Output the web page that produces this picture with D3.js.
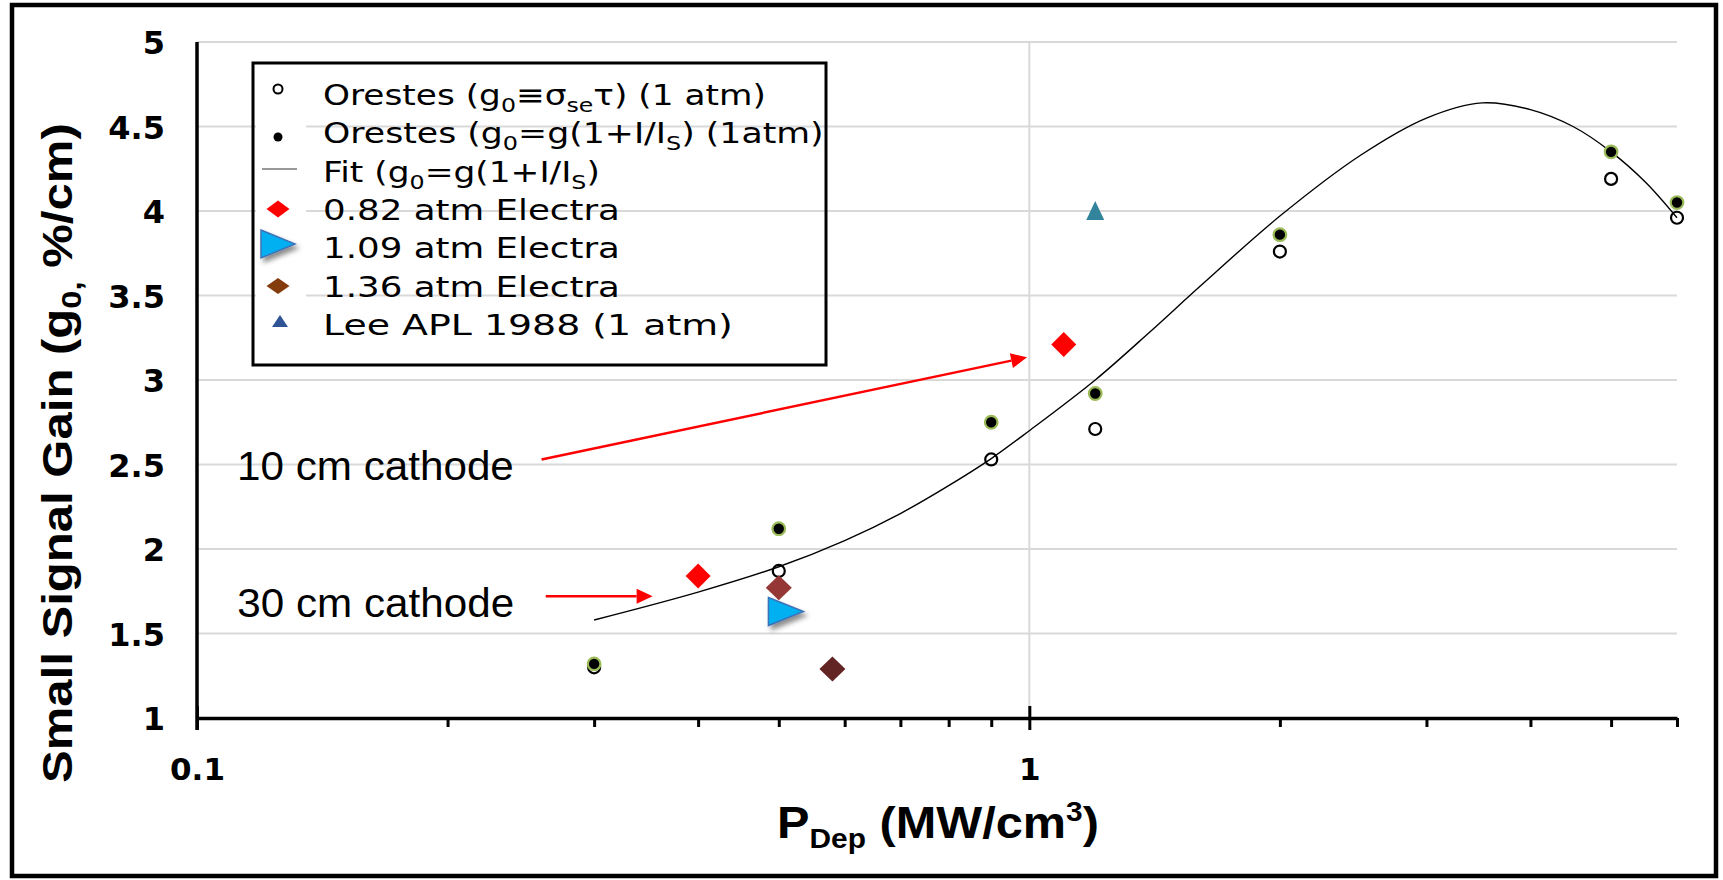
<!DOCTYPE html>
<html>
<head>
<meta charset="utf-8">
<script src="https://cdn.jsdelivr.net/npm/d3@7"></script>
<style>
  html, body { margin: 0; padding: 0; background: #fff; }
  svg { display: block; }
</style>
</head>
<body>
<svg id="chart" width="1723" height="880"></svg>
<script>
// ---- data ------------------------------------------------------------
// Deposited power density (MW/cm^3) of the Orestes runs
const orestesP = [0.3, 0.5, 0.9, 1.2, 2, 5, 6];
// Small signal gain, g0 = sigma_se * tau (1 atm)
const orestesGainTau = [1.30, 1.87, 2.53, 2.71, 3.76, 4.19, 3.96];
// Small signal gain, g0 = g(1 + I/Is) (1 atm)
const orestesGainSat = [1.32, 2.12, 2.75, 2.92, 3.86, 4.35, 4.05];
// Fit curve through the saturated-gain values
const fitP    = [0.3, 0.4, 0.5, 0.6, 0.7, 0.8, 0.9, 1.0, 1.2, 1.4, 1.6, 2.0, 2.5, 3.0, 3.5, 4.0, 4.5, 5.0, 5.5, 6.0];
const fitGain = [1.58, 1.745, 1.895, 2.05, 2.21, 2.375, 2.535, 2.70, 3.00, 3.29, 3.55, 3.97, 4.33, 4.55, 4.64, 4.60, 4.50, 4.35, 4.17, 3.96];
// Electra shots
const electra082P = [0.4, 1.1];
const electra082Gain = [1.84, 3.21];
const electra109P = [0.51];
const electra109Gain = [1.63];
const electra136P = [0.5, 0.58];
const electra136Gain = [1.77, 1.29];
// Lee, APL 1988 (1 atm)
const leeP = [1.2];
const leeGain = [4.0];
// Axis ticks
const gainTicks = [1, 1.5, 2, 2.5, 3, 3.5, 4, 4.5, 5];
const gainTickLabels = ["1", "1.5", "2", "2.5", "3", "3.5", "4", "4.5", "5"];
const pMajorTicks = [0.1, 1];
const pMajorLabels = ["0.1", "1"];
const pMinorTicks = [0.2, 0.3, 0.4, 0.5, 0.6, 0.7, 0.8, 0.9, 2, 3, 4, 5, 6];
// Annotation arrows: [label, start P, start gain, end P, end gain, text P, text gain]
const cathodeNotes = [
  ["10 cm cathode", 0.2594, 2.53, 0.9937, 3.134, 0.1117, 2.41],
  ["30 cm cathode", 0.2624, 1.72, 0.3527, 1.72, 0.1118, 1.60]
];

// ---- styles ------------------------------------------------------------
const gridColor = "#d9d9d9";
const satStroke = "#9bbb59";
const red = "#ff0000";
const brownFills = ["#953735", "#632523"];
const legendBrown = "#843c0c";
const blueFill = "#00b0f0";
const blueStroke = "#3d72b8";
const leeColor = "#31849b";
const leeLegendColor = "#2f5597";

const svg = d3.select("#chart");

const defs = svg.append("defs");
const shadow = defs.append("filter").attr("id", "shadow")
  .attr("x", "-60%").attr("y", "-60%").attr("width", "220%").attr("height", "220%");
shadow.append("feDropShadow").attr("dx", 3).attr("dy", 4).attr("stdDeviation", 2.5)
  .attr("flood-color", "#000").attr("flood-opacity", 0.45);

const x = d3.scaleLog().domain([0.1, 6]).range([197, 1677]);
const y = d3.scaleLinear().domain([1, 5]).range([718, 42]);

// horizontally stretch a text node to a given width about its left edge
function stretchTo(sel, target) {
  const bb = sel.node().getBBox();
  const k = target / bb.width;
  sel.attr("transform", `translate(${bb.x},0) scale(${k},1) translate(${-bb.x},0)`);
  return k;
}
// add text with sub/superscript parts
function rich(textSel, parts, small, subDy, supDy) {
  let off = 0;
  parts.forEach(p => {
    const s = typeof p === "string" ? { t: p } : p;
    const shift = s.sub ? subDy : (s.sup ? supDy : 0);
    const ts = textSel.append("tspan").attr("dy", shift - off).text(s.t);
    if (s.sub || s.sup) ts.attr("font-size", small);
    off = shift;
  });
}

// outer frame
svg.append("rect").attr("x", 12).attr("y", 5).attr("width", 1704).attr("height", 871)
  .attr("fill", "#fff").attr("stroke", "#000").attr("stroke-width", 4.5);

// ---- grid ------------------------------------------------------------
const grid = svg.append("g");
grid.selectAll("line.h").data(gainTicks.filter(v => v > 1)).join("line")
  .attr("x1", x(0.1)).attr("x2", x(6))
  .attr("y1", d => y(d)).attr("y2", d => y(d))
  .attr("stroke", gridColor).attr("stroke-width", 2);
grid.append("line")
  .attr("x1", x(1)).attr("x2", x(1)).attr("y1", y(5)).attr("y2", y(1))
  .attr("stroke", gridColor).attr("stroke-width", 2);

// ---- axes ------------------------------------------------------------
const yAxis = svg.append("g").attr("transform", `translate(${x(0.1)},0)`)
  .call(d3.axisLeft(y).tickValues(gainTicks).tickSize(0).tickPadding(32)
    .tickFormat((d, i) => gainTickLabels[i]));
yAxis.select(".domain").attr("stroke", "#000").attr("stroke-width", 3.5)
  .attr("d", `M0,${y(5)}V${y(1) + 12}`);
yAxis.selectAll("text")
  .attr("font-family", "DejaVu Sans").attr("font-weight", "bold").attr("font-size", 32)
  .attr("fill", "#000").attr("dy", "0.36em");

const xAxisMinor = svg.append("g").attr("transform", `translate(0,${y(1)})`)
  .call(d3.axisBottom(x).tickValues(pMinorTicks).tickSize(9).tickSizeOuter(0).tickFormat(""));
xAxisMinor.select(".domain").attr("stroke", "#000").attr("stroke-width", 3.5);
xAxisMinor.selectAll(".tick line").attr("stroke", "#000").attr("stroke-width", 3);

const xAxisMajor = svg.append("g").attr("transform", `translate(0,${y(1)})`)
  .call(d3.axisBottom(x).tickValues(pMajorTicks).tickSize(12).tickSizeOuter(0).tickPadding(28)
    .tickFormat((d, i) => pMajorLabels[i]));
xAxisMajor.select(".domain").remove();
xAxisMajor.selectAll(".tick line").attr("stroke", "#000").attr("stroke-width", 3).attr("y1", -12);
xAxisMajor.selectAll("text")
  .attr("font-family", "DejaVu Sans").attr("font-weight", "bold").attr("font-size", 31)
  .attr("fill", "#000").attr("dy", "0.71em");

// axis titles
const xTitle = svg.append("text").attr("x", 777).attr("y", 838)
  .attr("font-family", "Liberation Sans").attr("font-weight", "bold").attr("font-size", 44)
  .attr("fill", "#000");
rich(xTitle, ["P", { t: "Dep", sub: true }, " (MW/cm", { t: "3", sup: true }, ")"], 27, 10, -17);
stretchTo(xTitle, 322);

const yTitleG = svg.append("g").attr("transform", "translate(72,783) rotate(-90)");
const yTitle = yTitleG.append("text").attr("x", 0).attr("y", 0)
  .attr("font-family", "Liberation Sans").attr("font-weight", "bold").attr("font-size", 42)
  .attr("fill", "#000");
rich(yTitle, ["Small  Signal Gain (g", { t: "0,", sub: true }, " %/cm)"], 28, 9, 0);
stretchTo(yTitle, 660);

// ---- annotations ------------------------------------------------------
const notes = svg.append("g");
cathodeNotes.forEach(n => {
  const [label, p0, g0, p1, g1, tp, tg] = n;
  const t = notes.append("text").attr("x", x(tp)).attr("y", y(tg))
    .attr("font-family", "Liberation Sans").attr("font-size", 40).attr("fill", "#000").text(label);
  stretchTo(t, 277);
  const xa = x(p0), ya = y(g0), xb = x(p1), yb = y(g1);
  const ang = Math.atan2(yb - ya, xb - xa);
  const L = 16, hw = 7.5;
  const bx = xb - L * Math.cos(ang), by = yb - L * Math.sin(ang);
  notes.append("line").attr("x1", xa).attr("y1", ya).attr("x2", bx).attr("y2", by)
    .attr("stroke", red).attr("stroke-width", 2.5);
  notes.append("path")
    .attr("d", `M${xb},${yb}L${bx - hw * Math.sin(ang)},${by + hw * Math.cos(ang)}L${bx + hw * Math.sin(ang)},${by - hw * Math.cos(ang)}Z`)
    .attr("fill", red);
});

// ---- marks ------------------------------------------------------------
const marks = svg.append("g");
const diamond = (cx, cy, hw, hh) => `M${cx},${cy - hh}L${cx + hw},${cy}L${cx},${cy + hh}L${cx - hw},${cy}Z`;

// open circles
marks.selectAll("circle.tau").data(orestesP).join("circle")
  .attr("cx", d => x(d)).attr("cy", (d, i) => y(orestesGainTau[i])).attr("r", 6)
  .attr("fill", "none").attr("stroke", "#000").attr("stroke-width", 2.2);

// fit curve
const fitLine = d3.line().x(d => x(d[0])).y(d => y(d[1])).curve(d3.curveCatmullRom.alpha(0.5));
marks.append("path").datum(fitP.map((p, i) => [p, fitGain[i]]))
  .attr("d", fitLine).attr("fill", "none").attr("stroke", "#000").attr("stroke-width", 1.4);

// filled circles
marks.selectAll("circle.sat").data(orestesP).join("circle")
  .attr("cx", d => x(d)).attr("cy", (d, i) => y(orestesGainSat[i])).attr("r", 6.3)
  .attr("fill", "#000").attr("stroke", satStroke).attr("stroke-width", 2.2);

// 0.82 atm Electra
marks.selectAll("path.e082").data(electra082P).join("path")
  .attr("d", (d, i) => diamond(x(d), y(electra082Gain[i]), 12.5, 12.5)).attr("fill", red);

// 1.36 atm Electra
marks.selectAll("path.e136").data(electra136P).join("path")
  .attr("d", (d, i) => diamond(x(d), y(electra136Gain[i]), 13, 12.5)).attr("fill", (d, i) => brownFills[i]);

// 1.09 atm Electra
marks.selectAll("path.e109").data(electra109P).join("path")
  .attr("d", (d, i) => {
    const cx = x(d), cy = y(electra109Gain[i]);
    return `M${cx - 17.5},${cy - 14}L${cx + 17.5},${cy}L${cx - 17.5},${cy + 14}Z`;
  })
  .attr("fill", blueFill).attr("stroke", blueStroke).attr("stroke-width", 1.5)
  .attr("filter", "url(#shadow)");

// Lee APL 1988
marks.selectAll("path.lee").data(leeP).join("path")
  .attr("d", (d, i) => {
    const cx = x(d), cy = y(leeGain[i]);
    return `M${cx},${cy - 10}L${cx + 9},${cy + 9}L${cx - 9},${cy + 9}Z`;
  })
  .attr("fill", leeColor);

// ---- legend ------------------------------------------------------------
const legend = svg.append("g");
const rows = [
  ["Orestes (g", { t: "0", sub: true }, "≡σ", { t: "se", sub: true }, "τ) (1 atm)"],
  ["Orestes (g", { t: "0", sub: true }, "=g(1+I/I", { t: "S", sub: true }, ") (1atm)"],
  ["Fit (g", { t: "0", sub: true }, "=g(1+I/I", { t: "S", sub: true }, ")"],
  ["0.82 atm Electra"],
  ["1.09 atm Electra"],
  ["1.36 atm Electra"],
  ["Lee APL 1988 (1 atm)"]
];
const rowBase = [105, 143, 182, 220, 258, 297, 335];
const rowWidth = [443, 501, 277, 297, 297, 297, 410];
const markY = [89, 137, 169, 209, 244, 286, 321];

// white patches behind the legend symbols
markY.forEach(my => legend.append("rect").attr("x", 256).attr("y", my - 14)
  .attr("width", 50).attr("height", 28).attr("fill", "#fff"));

legend.append("circle").attr("cx", 278).attr("cy", markY[0]).attr("r", 4.5)
  .attr("fill", "#fff").attr("stroke", "#000").attr("stroke-width", 2);
legend.append("circle").attr("cx", 278).attr("cy", markY[1]).attr("r", 4.5).attr("fill", "#000");
legend.append("line").attr("x1", 262).attr("x2", 297).attr("y1", markY[2]).attr("y2", markY[2])
  .attr("stroke", "#333").attr("stroke-width", 1);
legend.append("path").attr("d", diamond(278, markY[3], 11.5, 8.5)).attr("fill", red);
legend.append("path").attr("d", `M261,230L295,244L261,258Z`)
  .attr("fill", blueFill).attr("stroke", blueStroke).attr("stroke-width", 1.5).attr("filter", "url(#shadow)");
legend.append("path").attr("d", diamond(278, markY[5], 11.5, 8)).attr("fill", legendBrown);
legend.append("path").attr("d", `M280,${markY[6] - 6}L288,${markY[6] + 6}L272,${markY[6] + 6}Z`)
  .attr("fill", leeLegendColor);

rows.forEach((parts, i) => {
  const t = legend.append("text").attr("x", 323).attr("y", rowBase[i])
    .attr("font-family", "DejaVu Sans").attr("font-size", 29).attr("fill", "#000");
  rich(t, parts, 20, 7, 0);
  stretchTo(t, rowWidth[i]);
});

legend.append("rect").attr("x", 253).attr("y", 63).attr("width", 573).attr("height", 302)
  .attr("fill", "none").attr("stroke", "#000").attr("stroke-width", 3);
</script>
</body>
</html>
